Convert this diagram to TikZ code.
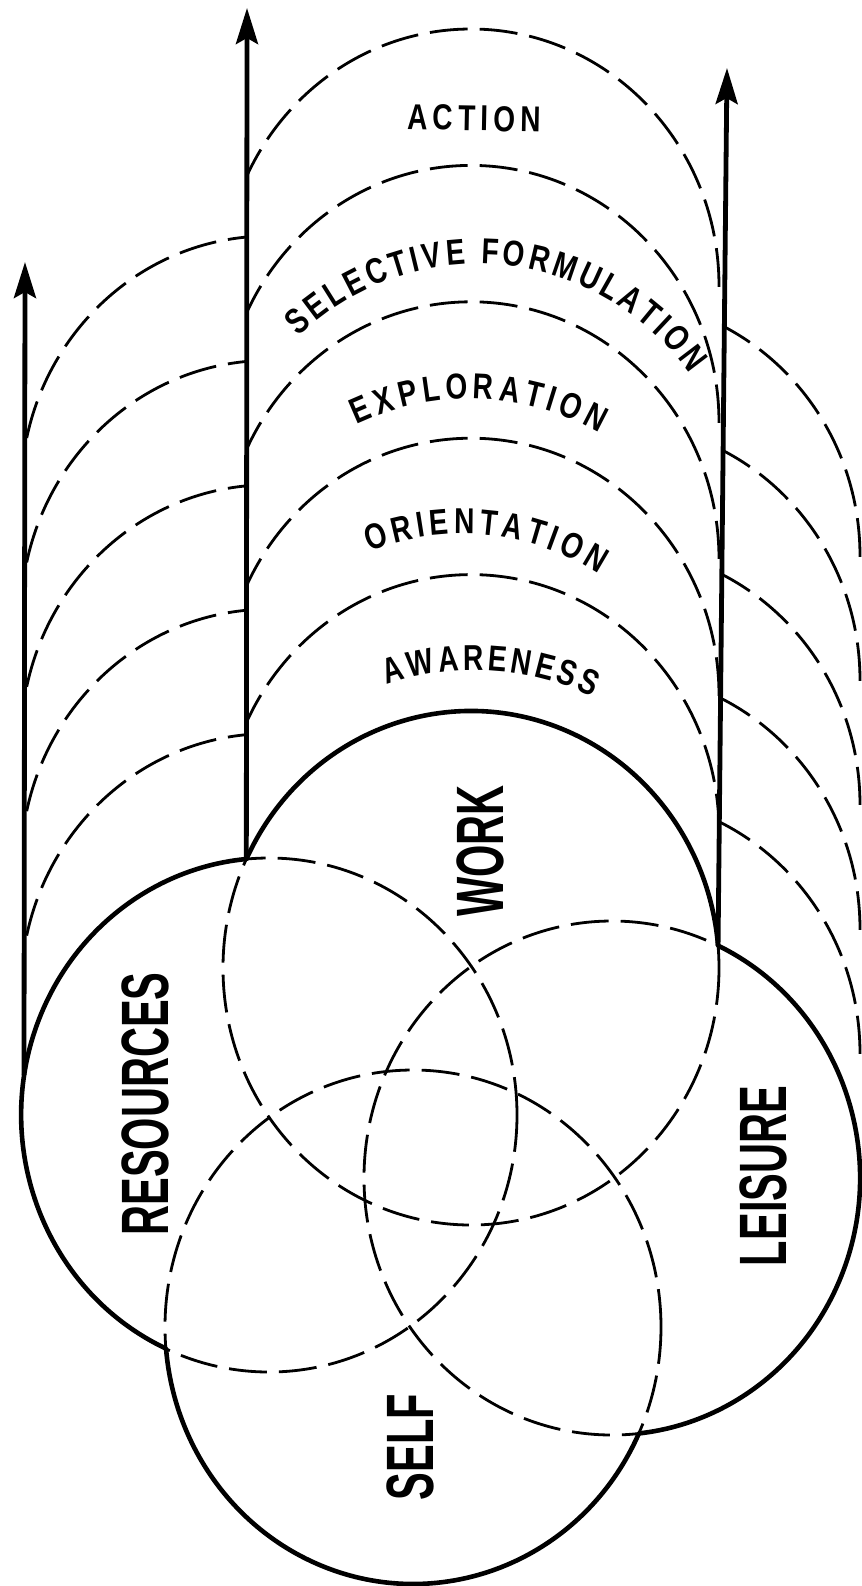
\documentclass[tikz,border=0pt]{standalone}
\usepackage{fontspec}
\usetikzlibrary{arrows.meta,decorations.text}
\newfontfamily\labfont{Liberation Sans}[UprightFont={* Bold},FakeStretch=0.62]
\newfontfamily\curvfam{Liberation Sans}[UprightFont={* Bold},FakeStretch=0.78,Scale=1.8]
\newcommand\biglab{\labfont\fontsize{33.5pt}{36pt}\selectfont}
\begin{document}
\begin{tikzpicture}[x=0.5pt,y=0.5pt,
  dashline/.style={line width=1.4pt, dash pattern=on 19pt off 6pt},
  outline/.style={line width=2.3pt, line join=round},
  uparrow/.style={line width=2.4pt, -{Stealth[length=18pt,width=11pt,inset=3pt]}},
  circlabel/.style={font=\biglab, rotate=90, inner sep=0pt},
  ell/.style={x radius=124pt, y radius=128.5pt},
  stagetext/.style={decorate, decoration={text along path,
    text align=fit to path, text={|\curvfam|#1}}}
]
\useasboundingbox (0,0) rectangle (862,-1586);
\fill[white] (0,0) rectangle (862,-1586);

% centres of the four circles
\coordinate (W) at (471,-968);
\coordinate (R) at (269,-1115);
\coordinate (L) at (612,-1178);
\coordinate (S) at (413,-1327);

% dashed full circles
\foreach \c in {W,R,L,S} \draw[dashline] (\c) ellipse [ell];

% stacked copies, middle column (WORK)
\foreach \k in {1,...,5} {
  \begin{scope}
    \clip (246.4,10) -- (246.4,-1100) -- (716.2,-1100) -- (728.9,10) -- cycle;
    \clip (0,{-968+136.4*\k}) rectangle (870,10);
    \draw[dashline] (471,{-968+136.4*\k}) ellipse [ell];
  \end{scope}
}
% stacked copies, left column (RESOURCES)
\foreach \k in {1,...,5} {
  \begin{scope}
    \clip (24,{-1115+124.4*\k}) rectangle (246.4,10);
    \draw[dashline] (269,{-1115+124.4*\k}) ellipse [ell];
  \end{scope}
}
% stacked copies, right column (LEISURE)
\foreach \k in {1,...,5} {
  \begin{scope}
    \clip (728.9,10) -- (716.2,-1100) -- (870,-1100) -- (870,10) -- cycle;
    \clip (0,{-1178+124.4*\k}) rectangle (870,10);
    \draw[dashline] (612,{-1178+124.4*\k}) ellipse [ell];
  \end{scope}
}

% solid outer outline
\coordinate (P1) at ([shift={(154.95:124pt and 128.5pt)}]W);
\coordinate (P2) at ([shift={(5.0:124pt and 128.5pt)}]W);
\draw[outline] (P1)
  arc[start angle=154.95, end angle=5.0, ell]
  arc[start angle=64.7, end angle=-83.8, ell]
  arc[start angle=-24.48, end angle=-175.16, ell]
  arc[start angle=-114.57, end angle=-264.77, ell] -- cycle;

% arrows
\coordinate (baseL) at (24,-1075);
\coordinate (tipL) at (25,-262);
\coordinate (tipM) at (247,-8);
\coordinate (tipR) at (727,-68);
\draw[uparrow] (baseL) -- (tipL);
\draw[uparrow] (P1) -- (tipM);
\draw[uparrow] (P2) -- (tipR);

% circle labels
\node[circlabel] (work) at (480,-851) {WORK};
\node[circlabel] (res) at (145,-1104) {RESOURCES};
\node[circlabel] (lei) at (763,-1176) {LEISURE};
\node[circlabel] (self) at (410,-1447) {SELF};

% stage labels
\path[stagetext=ACTION] (407,-129.5) -- (541,-132);
\path[stagetext=SELECTIVE FORMULATION]
  ([shift={(134:129pt)}]478,-522) arc[start angle=134, end angle=35, radius=129pt];
\path[stagetext=EXPLORATION]
  ([shift={(115.4:132pt)}]470,-663) arc[start angle=115.4, end angle=60.6, radius=132pt];
\path[stagetext=ORIENTATION]
  ([shift={(111.5:126.5pt)}]462,-787) arc[start angle=111.5, end angle=57.2, radius=126.5pt];
\path[stagetext=AWARENESS]
  ([shift={(109.1:134.5pt)}]475,-939) arc[start angle=109.1, end angle=64.0, radius=134.5pt];
\end{tikzpicture}
\end{document}
